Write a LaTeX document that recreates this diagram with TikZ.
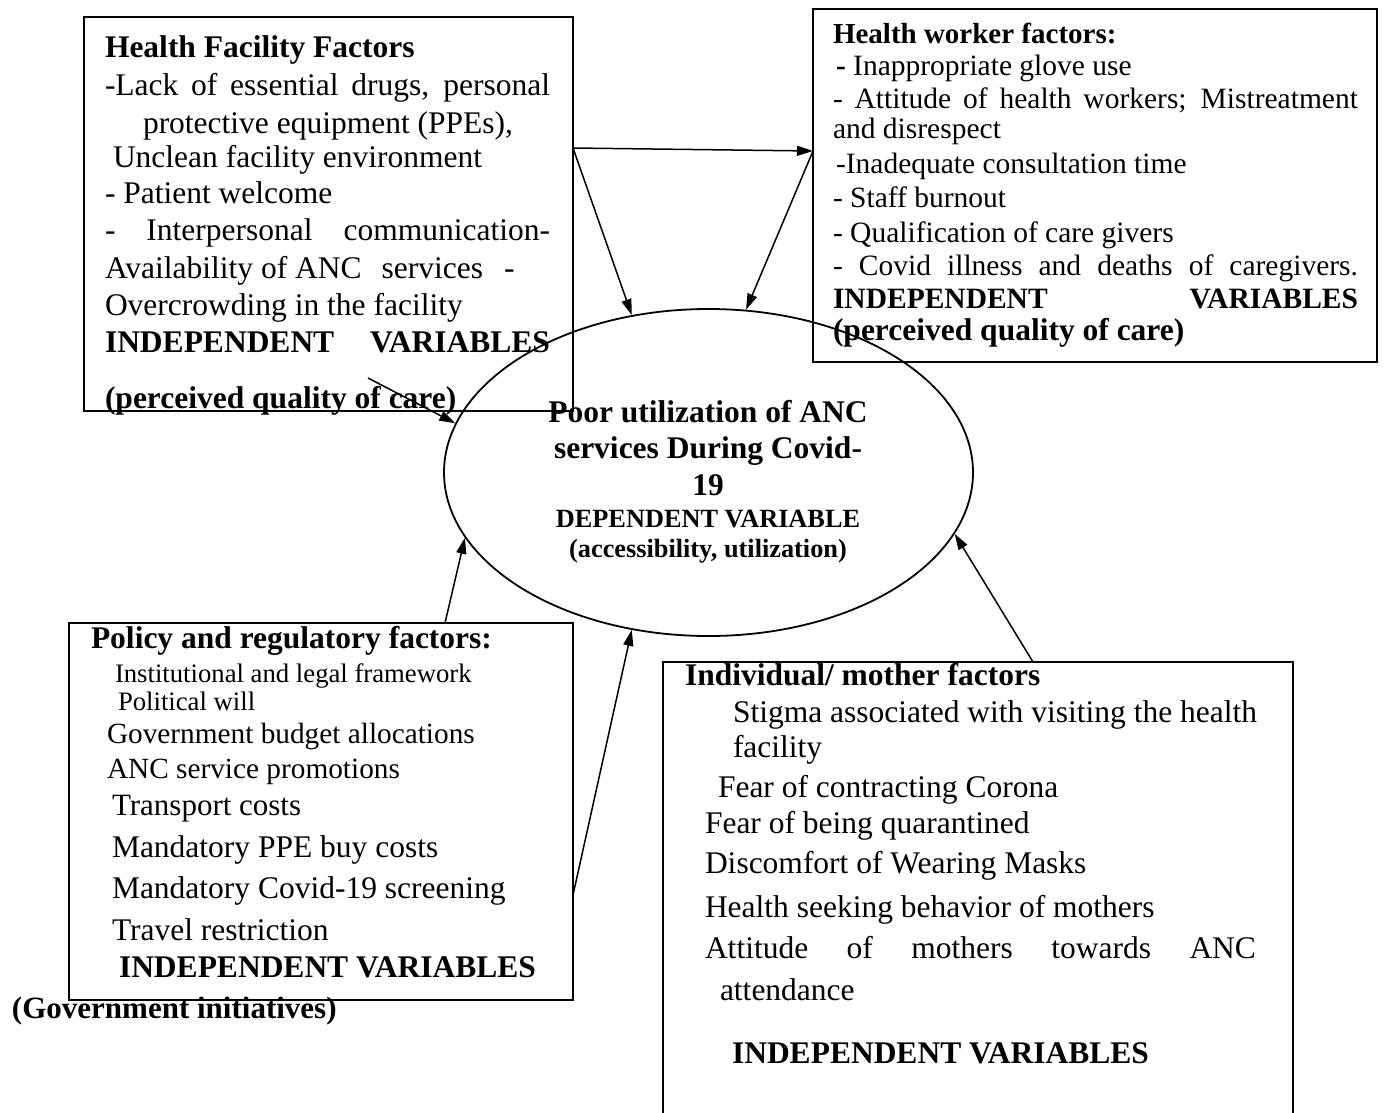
\documentclass[tikz,border=0pt]{standalone}
\usepackage{fontspec}
\setmainfont{Liberation Serif}
\usetikzlibrary{shapes.geometric,arrows.meta}
\newcommand\fA{\fontsize{31.5}{37}\selectfont}
\newcommand\fB{\fontsize{29.5}{33}\selectfont}
\newcommand\fC{\fontsize{26.7}{30}\selectfont}
\newcommand\fD{\fontsize{29.3}{33}\selectfont}
\newcommand\fE{\fontsize{26.3}{30}\selectfont}
\begin{document}
\begin{tikzpicture}[x=1pt,y=-1pt,
  txt/.style={anchor=base west,inner sep=0pt,outer sep=0pt},
  ctxt/.style={anchor=base,inner sep=0pt,outer sep=0pt},
  factorbox/.style={draw,rectangle,line width=2pt,inner sep=0pt},
  arr/.style={-{Triangle[length=16pt,width=10pt]},line width=1.5pt}]
\useasboundingbox (0,0) rectangle (1385,1112);
% boxes
\node[factorbox,minimum width=489pt,minimum height=394pt] (hf) at (328.5,214) {};
\node[factorbox,minimum width=564pt,minimum height=353pt] (hw) at (1095,185.5) {};
\node[factorbox,minimum width=504pt,minimum height=377pt] (pr) at (321,811.5) {};
\node[factorbox,minimum width=630pt,minimum height=470pt] (im) at (978,897) {};
\node[draw,ellipse,line width=1.8pt,minimum width=529pt,minimum height=327pt,inner sep=0pt] (dv) at (708.5,472.5) {};
% health facility text
\node[txt] (hf1) at (105,57) {\fA\bfseries Health Facility Factors};
\node[txt] (hf2) at (105,95) {\fA\makebox[445pt][s]{-Lack of essential drugs, personal}};
\node[txt] (hf3) at (143,133) {\fA protective equipment (PPEs),};
\node[txt] (hf4) at (113,167) {\fA Unclean facility environment};
\node[txt] (hf5) at (105,203) {\fA - Patient welcome};
\node[txt] (hf6) at (105,240) {\fA\makebox[445pt][s]{- Interpersonal communication-}};
\node[txt] (hf7) at (105,278) {\fA Availability of ANC\hspace{20pt}services\hspace{21pt}-};
\node[txt] (hf8) at (105,315) {\fA Overcrowding in the facility};
\node[txt] (hf9) at (105,352) {\fA\bfseries\makebox[445pt][s]{INDEPENDENT VARIABLES}};
\node[txt] (hf10) at (105,408) {\fA\bfseries (perceived quality of care)};
% health worker text
\node[txt] (hw1) at (833,43) {\fontsize{29}{33}\selectfont\bfseries Health worker factors:};
\node[txt] (hw2) at (836,75) {\fB{\bfseries -} Inappropriate glove use};
\node[txt] (hw3) at (833,108) {\fB\makebox[525pt][s]{- Attitude of health workers; Mistreatment}};
\node[txt] (hw4) at (833,138) {\fB and disrespect};
\node[txt] (hw5) at (836,173) {\fB -Inadequate consultation time};
\node[txt] (hw6) at (833,207) {\fB - Staff burnout};
\node[txt] (hw7) at (833,242) {\fB - Qualification of care givers};
\node[txt] (hw8) at (833,275) {\fB\makebox[525pt][s]{- Covid illness and deaths of caregivers.}};
\node[txt] (hw9) at (833,308) {\fB\bfseries\makebox[525pt][s]{INDEPENDENT VARIABLES}};
\node[txt] (hw10) at (833,340) {\fA\bfseries (perceived quality of care)};
% dependent variable text
\node[ctxt] (dv1) at (708,422) {\fA\bfseries Poor utilization of ANC};
\node[ctxt] (dv2) at (708,458) {\fA\bfseries services During Covid-};
\node[ctxt] (dv3) at (708,495) {\fA\bfseries 19};
\node[ctxt] (dv4) at (708,527) {\fE\bfseries DEPENDENT VARIABLE};
\node[ctxt] (dv5) at (708,557) {\fE\bfseries (accessibility, utilization)};
% policy text
\node[txt] (pr1) at (91,648) {\fA\bfseries Policy and regulatory factors:};
\node[txt] (pr2) at (115,682) {\fC Institutional and legal framework};
\node[txt] (pr3) at (118,710) {\fC Political will};
\node[txt] (pr4) at (107,743) {\fD Government budget allocations};
\node[txt] (pr5) at (107,778) {\fD ANC service promotions};
\node[txt] (pr6) at (112,815) {\fontsize{31}{35}\selectfont Transport costs};
\node[txt] (pr7) at (112,857) {\fA Mandatory PPE buy costs};
\node[txt] (pr8) at (112,898) {\fA Mandatory Covid-19 screening};
\node[txt] (pr9) at (112,940) {\fA Travel restriction};
\node[txt] (pr10) at (119,977) {\fA\bfseries INDEPENDENT VARIABLES};
\node[txt] (pr11) at (12,1018) {\fontsize{31}{35}\selectfont\bfseries (Government initiatives)};
% individual text
\node[txt] (im1) at (685,685) {\fA\bfseries Individual/ mother factors};
\node[txt] (im2) at (733,722) {\fA Stigma associated with visiting the health};
\node[txt] (im3) at (733,757) {\fA facility};
\node[txt] (im4) at (718,797) {\fA Fear of contracting Corona};
\node[txt] (im5) at (705,833) {\fA Fear of being quarantined};
\node[txt] (im6) at (705,873) {\fA Discomfort of Wearing Masks};
\node[txt] (im7) at (705,917) {\fA Health seeking behavior of mothers};
\node[txt] (im8) at (705,958) {\fA\makebox[551pt][s]{Attitude of mothers towards ANC}};
\node[txt] (im9) at (720,1000) {\fA attendance};
\node[txt] (im10) at (732,1063) {\fA\bfseries INDEPENDENT VARIABLES};
% connector end points on box borders
\coordinate (hfout) at (573,148);
\coordinate (hwin) at (813,151);
\coordinate (hfin) at (368,378);
\coordinate (prtop) at (445,623);
\coordinate (prright) at (573,895);
\coordinate (imtop) at (1033,662);
% connectors
\draw[arr] (hfout) -- (hwin);
\draw[arr] (hfout) -- (dv.116);
\draw[arr] (hwin) -- (dv.77.4);
\draw[arr] (hfin) -- (dv.169.3);
\draw[arr] (prtop) -- (dv.195.7);
\draw[arr] (prright) -- (dv.244.1);
\draw[arr] (imtop) -- (dv.-14.5);
\end{tikzpicture}
\end{document}
